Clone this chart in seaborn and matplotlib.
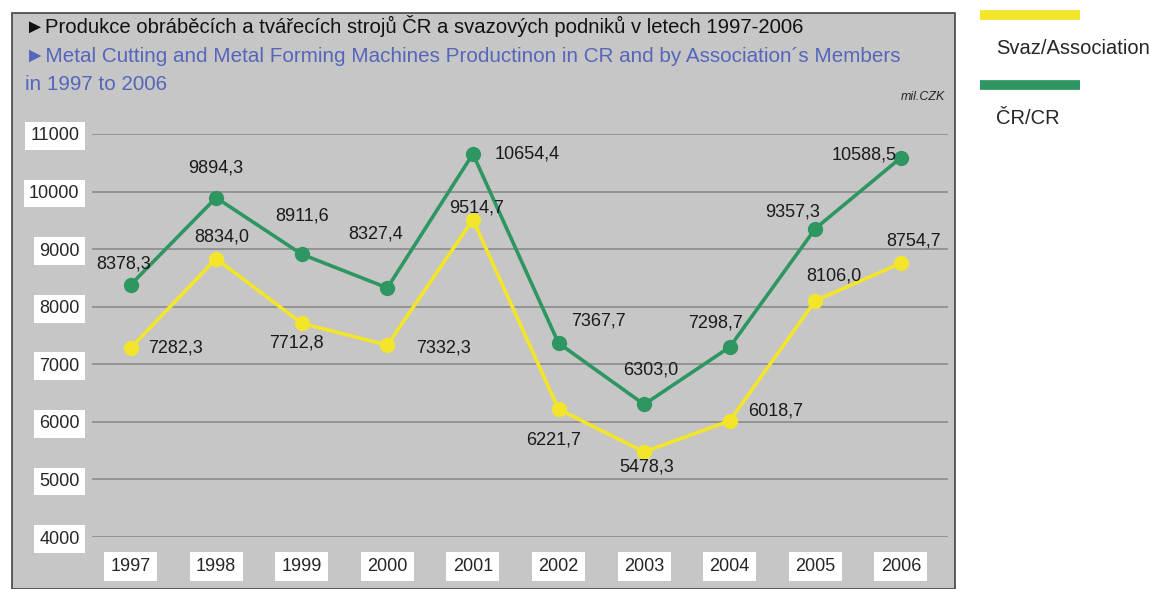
import pandas as pd
import seaborn as sns
import matplotlib.pyplot as plt
from matplotlib.patches import Rectangle
from matplotlib.lines import Line2D

# ==============================================================================
# DATA
# ==============================================================================
years = ['1997', '1998', '1999', '2000', '2001', '2002', '2003', '2004', '2005', '2006']
cr_values = [8378.3, 9894.3, 8911.6, 8327.4, 10654.4, 7367.7, 6303.0, 7298.7, 9357.3, 10588.5]
svaz_values = [7282.3, 8834.0, 7712.8, 7332.3, 9514.7, 6221.7, 5478.3, 6018.7, 8106.0, 8754.7]
series_names = ['Svaz/Association', 'ČR/CR']
y_ticks = [4000, 5000, 6000, 7000, 8000, 9000, 10000, 11000]

# label offsets (pixels) for each point
cr_offsets = [(-7, 21), (0, 30), (0, 38), (-12, 54), (54, 0), (40, 22), (7, 34), (-14, 24), (-23, 17), (-37, 3)]
svaz_offsets = [(45, 0), (6, 22), (-5, -20), (56, -3), (4, 12), (-5, -31), (3, -15), (46, 10), (19, 25), (13, 22)]

YELLOW = '#f2e52a'
GREEN = '#2e9660'
BG = '#c6c6c6'

df = pd.DataFrame({
    'year': years * 2,
    'value': svaz_values + cr_values,
    'series': [series_names[0]] * len(years) + [series_names[1]] * len(years),
})

# ==============================================================================
# FIGURE
# ==============================================================================
sns.set_style('white')
plt.rcParams['font.family'] = ['Liberation Sans', 'DejaVu Sans']

fig = plt.figure(figsize=(11.5, 5.89), dpi=100)
W, H = 1150, 589

# grey panel
fig.patches.append(Rectangle((12 / W, 0), (955 - 12) / W, (589 - 13) / H,
                             transform=fig.transFigure, facecolor=BG,
                             edgecolor='#444444', lw=1.2, zorder=-5))

ax = fig.add_axes([92 / W, (H - 537) / H, (948 - 92) / W, (537 - 134) / H])
ax.set_facecolor('none')
ax.set_zorder(2)

sns.lineplot(data=df, x='year', y='value', hue='series', palette=[YELLOW, GREEN],
             marker='o', markersize=11, markeredgewidth=0, linewidth=2.6,
             sort=False, legend=False, ax=ax)

ax.set_ylim(4000, 11000)
ax.set_xlim(-0.45, 9.55)
ax.yaxis.grid(True, color='#8a8a8a', lw=1.2)
ax.set_axisbelow(True)
for s in ax.spines.values():
    s.set_visible(False)
ax.set_xlabel('')
ax.set_ylabel('')

# white boxes behind tick labels
ax.set_yticks(y_ticks)
ax.set_yticklabels([str(t) for t in y_ticks], fontsize=13,
                   bbox=dict(boxstyle='square,pad=0.3', facecolor='white', edgecolor='none'))
ax.set_xticks(range(len(years)))
ax.set_xticklabels(years, fontsize=13,
                   bbox=dict(boxstyle='square,pad=0.35', facecolor='white', edgecolor='none'))
ax.tick_params(axis='y', length=0, pad=9)
ax.tick_params(axis='x', length=0, pad=15)

# data labels
for i in range(len(years)):
    dx, dy = cr_offsets[i]
    ax.annotate(f'{cr_values[i]:.1f}'.replace('.', ','), (i, cr_values[i]),
                xytext=(dx * 0.72, dy * 0.72), textcoords='offset points',
                ha='center', va='center', fontsize=13, color='#1a1a1a')
    dx, dy = svaz_offsets[i]
    ax.annotate(f'{svaz_values[i]:.1f}'.replace('.', ','), (i, svaz_values[i]),
                xytext=(dx * 0.72, dy * 0.72), textcoords='offset points',
                ha='center', va='center', fontsize=13, color='#1a1a1a')

# titles
fig.text(25 / W, 1 - 26 / H, '►Produkce obráběcích a tvářecích strojů ČR a svazových podniků v letech 1997-2006',
         fontsize=14.6, color='#111111', va='center')
fig.text(25 / W, 1 - 56 / H, '►Metal Cutting and Metal Forming Machines Productinon in CR and by Association´s Members',
         fontsize=14.9, color='#5566bb', va='center')
fig.text(25 / W, 1 - 84 / H, 'in 1997 to 2006', fontsize=14.9, color='#5566bb', va='center')
fig.text(945 / W, 1 - 97 / H, 'mil.CZK', fontsize=9, style='italic', ha='right', va='center')

# legend on the right
fig.add_artist(Line2D([980 / W, 1080 / W], [1 - 15 / H] * 2, color=YELLOW, lw=7, solid_capstyle='butt'))
fig.text(996 / W, 1 - 48 / H, series_names[0], fontsize=14.5, va='center')
fig.add_artist(Line2D([980 / W, 1080 / W], [1 - 85 / H] * 2, color=GREEN, lw=7, solid_capstyle='butt'))
fig.text(996 / W, 1 - 119 / H, series_names[1], fontsize=14.5, va='center')

plt.savefig('out.png', dpi=100)
